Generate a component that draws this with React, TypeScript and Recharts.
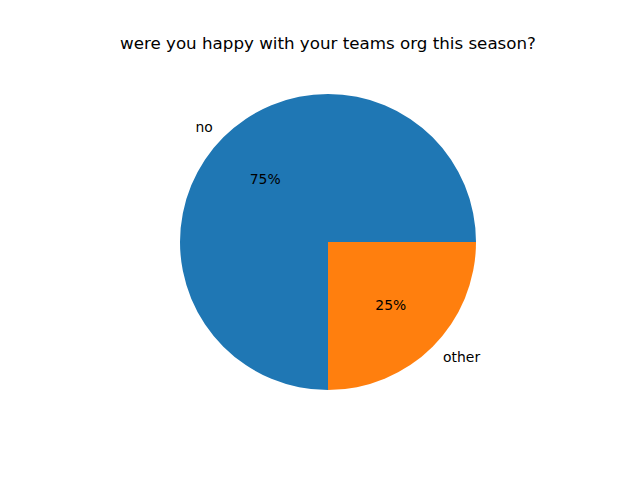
import React from 'react';
import { PieChart, Pie, Cell } from 'recharts';

const categories = ['no', 'other'];
const values = [75, 25];
const colors = ['#1f77b4', '#ff7f0e'];
const title = 'were you happy with your teams org this season?';

const data = categories.map((name, i) => ({ name, value: values[i] }));

const RADIAN = Math.PI / 180;

const renderLabel = (props: any) => {
  const { cx, cy, midAngle, outerRadius, percent, name } = props;
  const cos = Math.cos(-midAngle * RADIAN);
  const sin = Math.sin(-midAngle * RADIAN);
  const lx = cx + outerRadius * 1.1 * cos;
  const ly = cy + outerRadius * 1.1 * sin;
  const px = cx + outerRadius * 0.6 * cos;
  const py = cy + outerRadius * 0.6 * sin;
  const font = { fontFamily: 'DejaVu Sans', fontSize: 13.9, fill: '#000' };
  return (
    <g>
      <text x={lx} y={ly} textAnchor={cos >= 0 ? 'start' : 'end'} dominantBaseline="central" {...font}>
        {name}
      </text>
      <text x={px} y={py} textAnchor="middle" dominantBaseline="central" {...font}>
        {`${Math.round(percent * 100)}%`}
      </text>
    </g>
  );
};

export default function App() {
  return (
    <div style={{ position: 'absolute', left: 0, top: 0, width: 640, height: 480, background: '#fff' }}>
      <div
        style={{
          position: 'absolute',
          left: 0,
          top: 32,
          width: 656,
          textAlign: 'center',
          fontFamily: 'DejaVu Sans',
          fontSize: 16.7,
          lineHeight: '22px',
          color: '#000',
        }}
      >
        {title}
      </div>
      <PieChart width={640} height={480} margin={{ top: 0, right: 0, bottom: 0, left: 0 }}>
        <Pie
          data={data}
          dataKey="value"
          nameKey="name"
          cx={328}
          cy={242}
          outerRadius={148}
          startAngle={0}
          endAngle={360}
          stroke="none"
          label={renderLabel}
          labelLine={false}
          isAnimationActive={false}
        >
          {data.map((d, i) => (
            <Cell key={d.name} fill={colors[i]} />
          ))}
        </Pie>
      </PieChart>
    </div>
  );
}
